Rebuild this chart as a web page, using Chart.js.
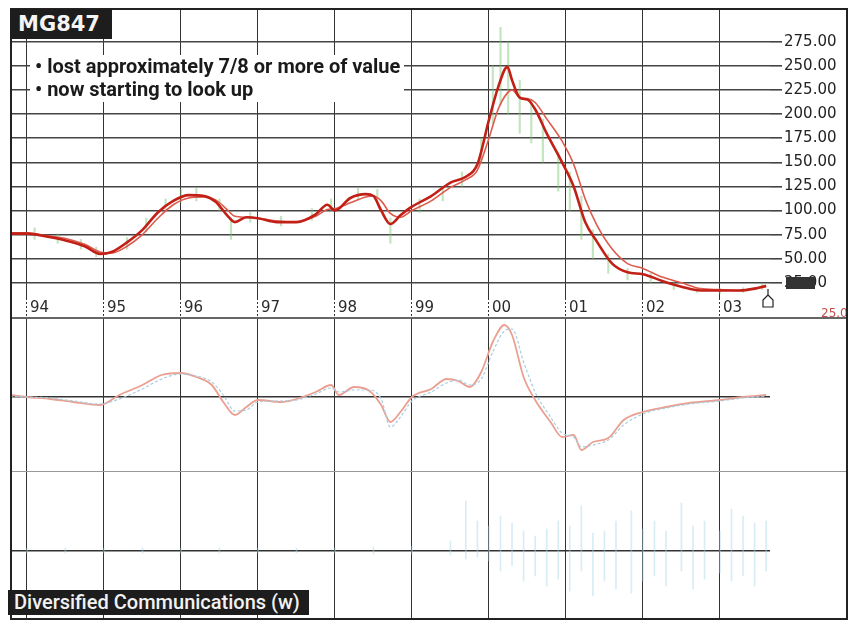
<!DOCTYPE html>
<html>
<head>
<meta charset="utf-8">
<script src="https://cdn.jsdelivr.net/npm/chart.js@4.4.1/dist/chart.umd.min.js"></script>
<style>
  body { margin: 0; background: #fff; }
  #wrap { position: relative; width: 854px; height: 629px; overflow: hidden; background: #fff; }
  canvas { position: absolute; }
  .frame { position: absolute; left: 10px; top: 8px; width: 838px; height: 612px; box-sizing: border-box; border: 2px solid #222; pointer-events: none; }
  .sep { position: absolute; left: 10px; width: 838px; background: #666; }
  #title { position: absolute; left: 10px; top: 9px; width: 102px; height: 30px; background: #1d1d1d; color: #f4f4f4;
           font: bold 21px "DejaVu Sans", sans-serif; line-height: 30px; padding-left: 8px; box-sizing: border-box; }
  #notes { position: absolute; left: 30px; top: 55px; width: 374px; height: 47px; background: #fff;
           font: bold 20px Roboto, sans-serif; color: #1a1a1a; line-height: 23px; padding-left: 5px; box-sizing: border-box; }
  #footer { position: absolute; left: 8px; top: 590px; width: 301px; height: 25px; background: #1d1d1d; color: #f2f2f2;
            font: 500 20px Roboto, sans-serif; line-height: 25px; padding-left: 6px; box-sizing: border-box; white-space: nowrap; }
  #lastbox { position: absolute; left: 786px; top: 277px; width: 29px; height: 12px; background: #333; }
  #redlbl { position: absolute; left: 821px; top: 306px; width: 25px; overflow: hidden; font: 12px "DejaVu Sans", sans-serif; color: #c0504a; }
  #marker { position: absolute; left: 760px; top: 289px; }
</style>
</head>
<body>
<div id="wrap">
  <canvas id="price" width="838" height="310" style="left:10px;top:8px"></canvas>
  <canvas id="osc" width="838" height="152" style="left:10px;top:318px"></canvas>
  <canvas id="vol" width="838" height="150" style="left:10px;top:470px"></canvas>
  <div class="sep" style="top:317px;height:2px"></div>
  <div class="sep" style="top:471px;height:1px;background:#999"></div>
  <div class="frame"></div>
  <div id="title">MG847</div>
  <div id="notes">• lost approximately 7/8 or more of value<br>• now starting to look up</div>
  <div id="lastbox"></div>
  <div id="redlbl">25.0</div>
  <svg id="marker" width="16" height="20"><path d="M8 0 V6 L13 11 V18 H3 V11 L8 6" fill="none" stroke="#222" stroke-width="1.2"/></svg>
  <div id="footer">Diversified Communications (w)</div>
</div>
<script>
// axis ticks
const years = [1994, 1995, 1996, 1997, 1998, 1999, 2000, 2001, 2002, 2003];
const yearLabels = ['94', '95', '96', '97', '98', '99', '00', '01', '02', '03'];
const priceTicks = [25, 50, 75, 100, 125, 150, 175, 200, 225, 250, 275];

// moving averages (weekly chart)
const maDates = [1993.78, 1994.0, 1994.25, 1994.5, 1994.75, 1994.95, 1995.1, 1995.3, 1995.5, 1995.7, 1995.9,
  1996.1, 1996.3, 1996.45, 1996.6, 1996.7, 1996.85, 1997.0, 1997.25, 1997.5, 1997.75, 1997.9,
  1998.0, 1998.2, 1998.4, 1998.5, 1998.6, 1998.72, 1998.85, 1999.0, 1999.25, 1999.5, 1999.7, 1999.85,
  2000.0, 2000.12, 2000.24, 2000.3, 2000.4, 2000.5, 2000.6, 2000.75, 2000.95, 2001.1, 2001.25, 2001.4,
  2001.6, 2001.8, 2002.0, 2002.25, 2002.5, 2002.75, 2003.0, 2003.25, 2003.45, 2003.6];
const fastMA = [76, 76, 73, 69, 63, 55, 57, 67, 80, 98, 110,
  116, 115, 109, 95, 88, 93, 92, 88, 88, 96, 106,
  100, 113, 117, 115, 100, 86, 95, 104, 115, 129, 135, 148,
  194, 228, 249, 235, 217, 215, 205, 180, 150, 125, 88, 68,
  45, 36, 34, 27, 21, 17, 17, 17, 19, 22];
const slowMA = [77, 77, 74, 71, 65, 57, 56, 63, 75, 92, 106,
  113, 114, 111, 101, 94, 93, 92, 89, 88, 94, 101,
  102, 108, 114, 115, 110, 97, 93, 100, 110, 124, 132, 142,
  175, 205, 222, 225, 217, 216, 212, 195, 172, 148, 112, 85,
  60, 45, 40, 31, 25, 19, 18, 17, 19, 21];

// weekly high-low ranges (sampled)
const barDates = [1994.1, 1994.4, 1994.7, 1994.9, 1995.3, 1995.55, 1995.8, 1996.0, 1996.2, 1996.5, 1996.65,
  1996.9, 1997.3, 1997.7, 1997.95, 1998.3, 1998.55, 1998.72, 1999.1, 1999.4, 1999.65, 1999.9,
  2000.05, 2000.15, 2000.25, 2000.4, 2000.55, 2000.7, 2000.9, 2001.05, 2001.2, 2001.35, 2001.55,
  2001.8, 2002.1, 2002.4, 2002.7, 2003.0, 2003.3, 2003.55];
const barLow = [70, 66, 60, 52, 60, 78, 100, 108, 110, 100, 70,
  88, 84, 90, 100, 112, 108, 66, 98, 110, 125, 150,
  190, 210, 200, 180, 170, 150, 120, 100, 70, 50, 35,
  28, 25, 18, 15, 14, 15, 18];
const barHigh = [82, 76, 70, 62, 72, 92, 112, 122, 124, 112, 92,
  98, 94, 102, 112, 124, 122, 92, 112, 125, 140, 175,
  250, 290, 275, 235, 215, 195, 160, 140, 115, 80, 55,
  40, 35, 27, 20, 19, 20, 24];

// oscillator
const oscDates = [1993.78, 1994.0, 1994.3, 1994.6, 1994.95, 1995.2, 1995.5, 1995.75, 1996.0, 1996.2, 1996.4,
  1996.55, 1996.7, 1996.85, 1997.0, 1997.3, 1997.5, 1997.75, 1997.95, 1998.05, 1998.25, 1998.45,
  1998.6, 1998.72, 1998.85, 1999.0, 1999.25, 1999.45, 1999.6, 1999.75, 1999.9, 2000.05, 2000.2,
  2000.3, 2000.45, 2000.6, 2000.8, 2000.95, 2001.1, 2001.2, 2001.35, 2001.55, 2001.75, 2002.0,
  2002.3, 2002.6, 2003.0, 2003.3, 2003.6];
const oscMain = [2, 0, -2, -5, -8, 2, 12, 22, 24, 20, 12,
  -5, -18, -10, -3, -5, -2, 5, 12, 2, 10, 6,
  -8, -25, -15, 0, 8, 18, 16, 10, 25, 55, 72,
  62, 20, -3, -25, -40, -38, -53, -45, -41, -23, -15,
  -10, -6, -3, 0, 2];
const oscSignal = [1, 0, -1, -4, -7, -2, 8, 18, 23, 21, 15,
  2, -14, -13, -5, -4, -3, 3, 9, 5, 7, 7,
  -2, -30, -20, -4, 5, 14, 17, 12, 18, 45, 66,
  68, 35, 5, -20, -36, -40, -50, -48, -43, -28, -17,
  -11, -7, -4, -1, 1];

// volume panel (centred on the dashed baseline)
const volDates = [1994.0, 1994.5, 1995.0, 1995.5, 1996.0, 1996.5, 1997.0, 1997.5, 1998.0, 1998.5, 1999.0,
  1999.5, 1999.7, 1999.85, 2000.0, 2000.15, 2000.3, 2000.45, 2000.6, 2000.75, 2000.9, 2001.05,
  2001.2, 2001.35, 2001.5, 2001.65, 2001.85, 2002.0, 2002.15, 2002.3, 2002.5, 2002.65, 2002.8,
  2003.0, 2003.15, 2003.3, 2003.45, 2003.6];
const volLow = [-2, -2, -2, -2, -2, -2, -2, -2, -2, -3, -3,
  -4, -8, -6, -10, -20, -15, -30, -25, -35, -28, -40,
  -20, -45, -30, -38, -42, -30, -25, -35, -20, -38, -28,
  -22, -30, -25, -35, -20];
const volHigh = [3, 3, 3, 3, 3, 3, 3, 3, 3, 4, 5,
  10, 50, 30, 25, 35, 28, 20, 15, 22, 30, 25,
  45, 18, 20, 30, 40, 22, 30, 20, 48, 25, 30,
  20, 42, 35, 28, 30];

const X_MIN = 1993.78, X_MAX = 2003.65;
const pts = (xs, ys) => xs.map((x, i) => ({ x: x, y: ys[i] }));
const ranges = (xs, lo, hi) => xs.map((x, i) => ({ x: x, y: [lo[i], hi[i]] }));

function yearAxis(showLabels) {
  return {
    type: 'linear', min: X_MIN, max: X_MAX, offset: false,
    afterBuildTicks: s => { s.ticks = years.map(v => ({ value: v })); },
    afterFit: s => { s.height = showLabels ? 20 : 0; s.paddingLeft = 0; s.paddingRight = 0; },
    border: { display: false },
    grid: { offset: false, color: '#333', lineWidth: 1, borderDash: [2, 2], drawTicks: showLabels,
            tickLength: 20, tickColor: '#333', tickBorderDash: [2, 2] },
    ticks: { display: showLabels, autoSkip: false, maxRotation: 0, align: 'start', labelOffset: 3, padding: -19,
             color: '#2a2a2a', font: { family: 'DejaVu Sans', size: 15 }, callback: (v, i) => yearLabels[i] }
  };
}

function baseAxis(min, max, dash) {
  return {
    position: 'right', min: min, max: max,
    afterBuildTicks: s => { s.ticks = [{ value: 0 }]; },
    afterFit: s => { s.width = 78; s.paddingTop = 0; s.paddingBottom = 0; },
    border: { display: false },
    grid: { color: '#333', lineWidth: 1.5, borderDash: dash, drawTicks: false },
    ticks: { display: false }
  };
}

const common = {
  responsive: false, animation: false, events: [],
  layout: { padding: 0 },
  plugins: { legend: { display: false }, tooltip: { enabled: false } }
};

new Chart(document.getElementById('price'), {
  type: 'line',
  data: {
    datasets: [
      { type: 'bar', data: ranges(barDates, barLow, barHigh), backgroundColor: 'rgba(120,195,110,0.45)',
        barThickness: 1.5, grouped: false, order: 3 },
      { data: pts(maDates, slowMA), borderColor: '#dd5a4c', borderWidth: 1.6, pointRadius: 0,
        cubicInterpolationMode: 'monotone', order: 2 },
      { data: pts(maDates, fastMA), borderColor: '#c21f17', borderWidth: 2.6, pointRadius: 0,
        cubicInterpolationMode: 'monotone', order: 1 }
    ]
  },
  options: Object.assign({}, common, {
    scales: {
      x: yearAxis(true),
      y: {
        position: 'right', min: 9.3, max: 310,
        afterBuildTicks: s => { s.ticks = priceTicks.map(v => ({ value: v })); },
        afterFit: s => { s.width = 78; s.paddingTop = 0; s.paddingBottom = 0; },
        border: { display: false },
        grid: { color: '#444', lineWidth: 1.6, tickLength: 12, tickColor: '#444' },
        ticks: { padding: 2, color: '#222', font: { family: 'DejaVu Sans', size: 15 }, callback: v => v.toFixed(2) }
      }
    }
  })
});

new Chart(document.getElementById('osc'), {
  type: 'line',
  data: {
    datasets: [
      { data: pts(oscDates, oscSignal), borderColor: '#a8cde0', borderWidth: 1.2, borderDash: [3, 2], pointRadius: 0,
        cubicInterpolationMode: 'monotone' },
      { data: pts(oscDates, oscMain), borderColor: '#eb9f90', borderWidth: 1.8, pointRadius: 0,
        cubicInterpolationMode: 'monotone' }
    ]
  },
  options: Object.assign({}, common, {
    scales: { x: yearAxis(false), y: baseAxis(-73, 79, [5, 2]) }
  })
});

new Chart(document.getElementById('vol'), {
  type: 'line',
  data: {
    datasets: [
      { type: 'bar', data: ranges(volDates, volLow, volHigh), backgroundColor: 'rgba(170,212,230,0.45)',
        barThickness: 1, grouped: false }
    ]
  },
  options: Object.assign({}, common, {
    scales: { x: yearAxis(false), y: baseAxis(-69, 81, [6, 3]) }
  })
});
</script>
</body>
</html>
